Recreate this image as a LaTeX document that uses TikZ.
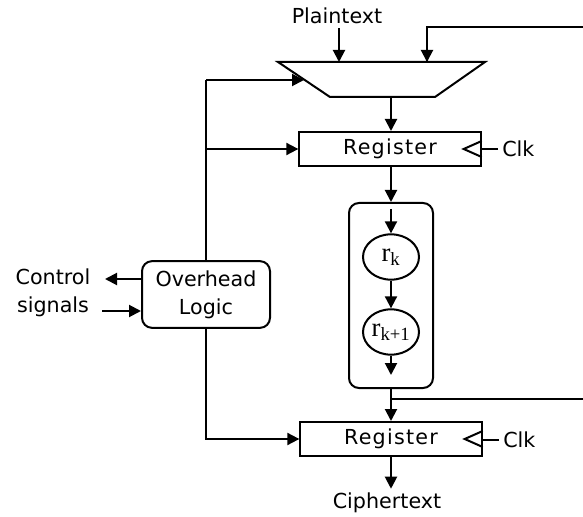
\documentclass[tikz,border=0pt]{standalone}
\usepackage{fontspec}
\setmainfont{DejaVu Sans}
\newfontfamily\romfont{Liberation Serif}
\newfontfamily\spacedfont[LetterSpace=6]{DejaVu Sans}
\usetikzlibrary{arrows.meta, shapes.geometric}

\tikzset{
  wire/.style={line width=1.5pt},
  arr/.style={wire, -{Triangle[length=9pt,width=9pt]}},
  regbox/.style={draw, wire, minimum width=136pt, minimum height=25.5pt, inner sep=0pt, font=\spacedfont\fontsize{15.5}{18}\selectfont},
  roundbox/.style={draw, wire, rounded corners=7.5pt, inner sep=0pt},
  stage/.style={draw, wire, ellipse, minimum width=42pt, minimum height=34pt, inner sep=0pt, font=\romfont\fontsize{20}{22}\selectfont},
  lbl/.style={inner sep=3pt, font=\fontsize{15.5}{21}\selectfont}
}

\begin{document}
\begin{tikzpicture}[x=0.75pt, y=-0.75pt]
  \useasboundingbox (0,0) rectangle (583,517);

  % Input multiplexer
  \coordinate (muxA) at (278,62);
  \coordinate (muxB) at (485,62);
  \coordinate (muxC) at (435,97);
  \coordinate (muxD) at (330,97);
  \draw[wire, line join=miter] (muxA) -- (muxB) -- (muxC) -- (muxD) -- cycle;
  \coordinate (muxin) at (339,62);
  \coordinate (muxfb) at (427,62);
  \coordinate (muxsel) at (304,80);
  \coordinate (muxout) at (391,97);

  % Text and clocks
  \node[lbl] (plain) at (337,16) {Plaintext};
  \node[lbl] (cipher) at (387,503) {Ciphertext};
  \coordinate (fbtop) at (583,27);
  \coordinate (fbbot) at (583,399);

  % Registers
  \node[regbox] (reg1) at (390,149) {Register};
  \node[regbox] (reg2) at (391,439) {Register};
  \foreach \r in {reg1, reg2} {
    \draw[wire, line join=miter] (\r.east) ++(0,-8) -- ++(-18,8) -- ++(18,8);
  }
  \node[lbl, anchor=west] (clk1) at (498,149) {Clk};
  \node[lbl, anchor=west] (clk2) at (499,440) {Clk};
  \draw[wire] (clk1.west) -- (reg1.east);
  \draw[wire] (clk2.west) -- (reg2.east |- clk2.west);

  % Round pipeline
  \node[roundbox, minimum width=63pt, minimum height=138.75pt] (pipe) at (391,295.5) {};
  \node[stage] (rk) at (391,257) {r\textsubscript{k}};
  \node[stage] (rk1) at (391,332) {r\textsubscript{k+1}};
  \coordinate (pin) at (391,209);
  \coordinate (pout) at (391,375);
  \coordinate (tap) at (392,399);

  % Overhead logic
  \node[roundbox, lbl, inner sep=0pt, align=center, minimum width=96pt, minimum height=50pt] (logic) at (206,294.5) {Overhead\\Logic};
  \node[lbl, align=center] (ctrl) at (53,293) {Control\\signals};
  \coordinate (busTop) at (206,80);
  \coordinate (ctrlout) at (105,279);
  \coordinate (ctrlin) at (102,311);

  % Data path
  \draw[arr] (plain.south -| muxin) -- (muxin);
  \draw[wire] (fbtop) -| (muxfb);
  \draw[arr] (muxfb |- fbtop) -- (muxfb);
  \draw[arr] (muxout) -- (reg1.north -| muxout);
  \draw[arr] (reg1.south -| muxout) -- (pipe.north);
  \draw[arr] (pin) -- (rk.north);
  \draw[arr] (rk.south) -- (rk1.north);
  \draw[arr] (rk1.south) -- (pout);
  \draw[arr] (pipe.south) -- (reg2.north -| pipe.south);
  \draw[wire] (tap) -- (fbbot);
  \draw[arr] (reg2.south -| pipe.south) -- (reg2.south |- cipher.north);

  % Control bus
  \draw[wire] (logic.north) -- (busTop);
  \draw[arr] (busTop) -- (muxsel);
  \draw[arr] (reg1.west -| logic.north) -- (reg1.west);
  \draw[arr] (logic.south) |- (reg2.west);
  \draw[arr] (logic.west |- ctrlout) -- (ctrlout);
  \draw[arr] (ctrlin) -- (logic.west |- ctrlin);
\end{tikzpicture}
\end{document}
